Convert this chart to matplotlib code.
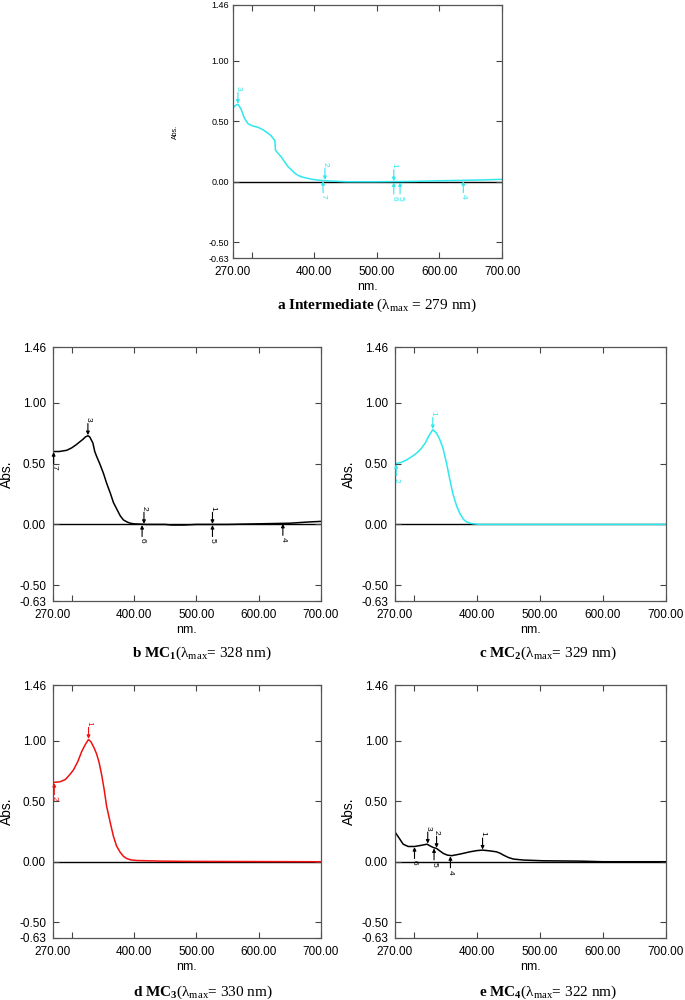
import matplotlib
matplotlib.use('Agg')
import matplotlib.pyplot as plt

plt.rcParams['font.family'] = ['Liberation Sans', 'DejaVu Sans']
plt.rcParams['mathtext.fontset'] = 'custom'
plt.rcParams['mathtext.rm'] = 'Liberation Serif'
plt.rcParams['mathtext.bf'] = 'Liberation Serif:bold'
plt.rcParams['mathtext.it'] = 'Liberation Serif:italic'

# wavelength (nm) / absorbance
wl_a = [270, 274, 278, 283, 288, 294, 302, 310, 318, 326, 331, 337, 338, 343, 348, 353, 358, 364,
        369, 375, 380, 388, 396, 412, 430, 450, 500, 560, 600, 640, 670, 700]
abs_a = [0.61, 0.63, 0.64, 0.60, 0.53, 0.48, 0.46, 0.45, 0.43, 0.40, 0.38, 0.34, 0.26, 0.23, 0.20,
         0.16, 0.125, 0.095, 0.07, 0.05, 0.04, 0.03, 0.02, 0.01, 0.005, 0.0, 0.0, 0.003, 0.008,
         0.012, 0.015, 0.02]

wl_b = [270, 280, 292, 300, 307, 313, 318, 322, 326, 329, 332, 334, 337, 340, 345, 351, 356, 362,
        367, 373, 378, 383, 389, 394, 400, 420, 450, 460, 480, 500, 550, 600, 650, 680, 700]
abs_b = [0.60, 0.60, 0.61, 0.63, 0.655, 0.68, 0.70, 0.72, 0.73, 0.72, 0.69, 0.67, 0.60, 0.56, 0.50,
         0.42, 0.34, 0.257, 0.18, 0.12, 0.07, 0.037, 0.02, 0.01, 0.005, 0.0, 0.0, -0.005, -0.005,
         0.0, 0.0, 0.005, 0.01, 0.02, 0.025]

wl_c = [270, 280, 288, 296, 304, 311, 318, 324, 330, 336, 341, 346, 352, 357, 362, 368, 373, 379,
        384, 389, 395, 405, 450, 700]
abs_c = [0.50, 0.51, 0.53, 0.555, 0.585, 0.62, 0.67, 0.73, 0.78, 0.75, 0.70, 0.63, 0.50, 0.37, 0.25,
         0.15, 0.09, 0.04, 0.02, 0.01, 0.005, 0.0, 0.0, 0.0]

wl_d = [270, 281, 290, 297, 303, 310, 316, 322, 327, 331, 336, 340, 344, 348, 352, 356, 362, 367,
        372, 378, 383, 388, 395, 405, 420, 445, 485, 700]
abs_d = [0.655, 0.66, 0.68, 0.72, 0.76, 0.83, 0.91, 0.97, 1.01, 0.99, 0.94, 0.89, 0.82, 0.72, 0.60,
         0.46, 0.32, 0.21, 0.13, 0.077, 0.045, 0.027, 0.015, 0.01, 0.008, 0.005, 0.003, 0.0]

wl_e = [270, 276, 283, 291, 301, 311, 321, 326, 331, 336, 341, 347, 353, 360, 373, 389, 400, 409,
        420, 431, 437, 442, 450, 458, 474, 505, 564, 600, 700]
abs_e = [0.246, 0.20, 0.145, 0.126, 0.126, 0.135, 0.145, 0.13, 0.117, 0.11, 0.09, 0.068, 0.055,
         0.05, 0.063, 0.082, 0.092, 0.096, 0.09, 0.082, 0.07, 0.055, 0.035, 0.022, 0.014, 0.008,
         0.005, 0.0, 0.0]

# peak picks: (nm, abs, number, side)  side 'up' = arrow above the curve
peaks_a = [(278, 0.64, '3', 'up'), (417, 0.01, '2', 'up'), (414, 0.01, '7', 'down'),
           (527, 0.0, '1', 'up'), (527, 0.0, '6', 'down'), (537, 0.0, '5', 'down'),
           (638, 0.01, '4', 'down')]
peaks_b = [(271, 0.60, '7', 'down'), (326, 0.73, '3', 'up'), (416, 0.0, '2', 'up'),
           (413, 0.0, '6', 'down'), (526, 0.0, '1', 'up'), (526, 0.0, '5', 'down'),
           (639, 0.01, '4', 'down')]
peaks_c = [(330, 0.78, '1', 'up'), (272, 0.50, '2', 'down')]
peaks_d = [(327, 1.01, '1', 'up'), (272, 0.655, '2', 'down')]
peaks_e = [(301, 0.126, '6', 'down'), (322, 0.145, '3', 'up'), (332, 0.115, '5', 'down'),
           (336, 0.11, '2', 'up'), (358, 0.05, '4', 'down'), (409, 0.096, '1', 'up')]

x_ticks = [270, 300, 400, 500, 600, 700]
x_labels = ['270.00', '', '400.00', '500.00', '600.00', '700.00']
y_ticks = [-0.63, -0.50, 0.00, 0.50, 1.00, 1.46]

captions = [r'$\mathbf{a\ Intermediate}$ (λ$_{\mathrm{max}}$ = 279 nm)',
            r'$\mathbf{b\ MC_1}$(λ$_{\mathrm{max}}$= 328 nm)',
            r'$\mathbf{c\ MC_2}$(λ$_{\mathrm{max}}$= 329 nm)',
            r'$\mathbf{d\ MC_3}$(λ$_{\mathrm{max}}$= 330 nm)',
            r'$\mathbf{e\ MC_4}$(λ$_{\mathrm{max}}$= 322 nm)']

CYAN = '#2ee8ee'
RED = '#f01010'


def draw_panel(fig, rect, wl, ab, peaks, color, small=False):
    ax = fig.add_axes(rect)
    ax.axhline(0, color='black', lw=1.0, zorder=1)
    ax.plot(wl, ab, color=color, lw=1.1, zorder=2)
    for x, y, lab, side in peaks:
        s = 1 if side == 'up' else -1
        ax.annotate('', xy=(x, y + s * 0.005), xytext=(x, y + s * 0.1),
                    arrowprops=dict(arrowstyle='-|>', color=color, lw=0.8,
                                    mutation_scale=5, shrinkA=0, shrinkB=0), zorder=3)
        ax.text(x, y + s * 0.115, lab, color=color, fontsize=6, rotation=270,
                ha='center', va='bottom' if s > 0 else 'top')
    ax.set_xlim(270, 700)
    ax.set_ylim(-0.63, 1.46)
    ax.set_xticks(x_ticks)
    ax.set_xticklabels(x_labels)
    ax.set_yticks(y_ticks)
    ax.set_yticklabels(['%.2f' % v for v in y_ticks])
    ax.tick_params(direction='in', top=True, right=True, length=4, width=0.8,
                   color='#444444', pad=5)
    for sp in ax.spines.values():
        sp.set_color('#555555')
        sp.set_linewidth(0.9)
    if small:
        ax.tick_params(axis='y', labelsize=6.5, pad=3)
        ax.tick_params(axis='x', labelsize=8.5, pad=6)
        ax.set_xlabel('nm.', fontsize=9, labelpad=2)
        ax.set_ylabel('Abs.', fontsize=5)
        ax.yaxis.set_label_coords(-0.2, 0.5)
    else:
        ax.tick_params(labelsize=8.5)
        ax.tick_params(axis='x', pad=6)
        ax.set_xlabel('nm.', fontsize=9, labelpad=2)
        ax.set_ylabel('Abs.', fontsize=10, labelpad=4)
    return ax


fig = plt.figure(figsize=(6.85, 10), dpi=100)

draw_panel(fig, [0.340, 0.742, 0.393, 0.253], wl_a, abs_a, peaks_a, CYAN, small=True)
draw_panel(fig, [0.0774, 0.399, 0.391, 0.254], wl_b, abs_b, peaks_b, 'black')
draw_panel(fig, [0.5766, 0.399, 0.3956, 0.254], wl_c, abs_c, peaks_c, CYAN)
draw_panel(fig, [0.0774, 0.062, 0.391, 0.253], wl_d, abs_d, peaks_d, RED)
draw_panel(fig, [0.5766, 0.062, 0.3956, 0.253], wl_e, abs_e, peaks_e, 'black')

cap_pos = [(377, 305), (202, 653), (548, 653), (203, 992), (548, 992)]
for (px, py), cap in zip(cap_pos, captions):
    fig.text(px / 685, 1 - py / 1000, cap, fontsize=11, family='Liberation Serif',
             ha='center', va='center')

fig.savefig('out.png', dpi=100)
